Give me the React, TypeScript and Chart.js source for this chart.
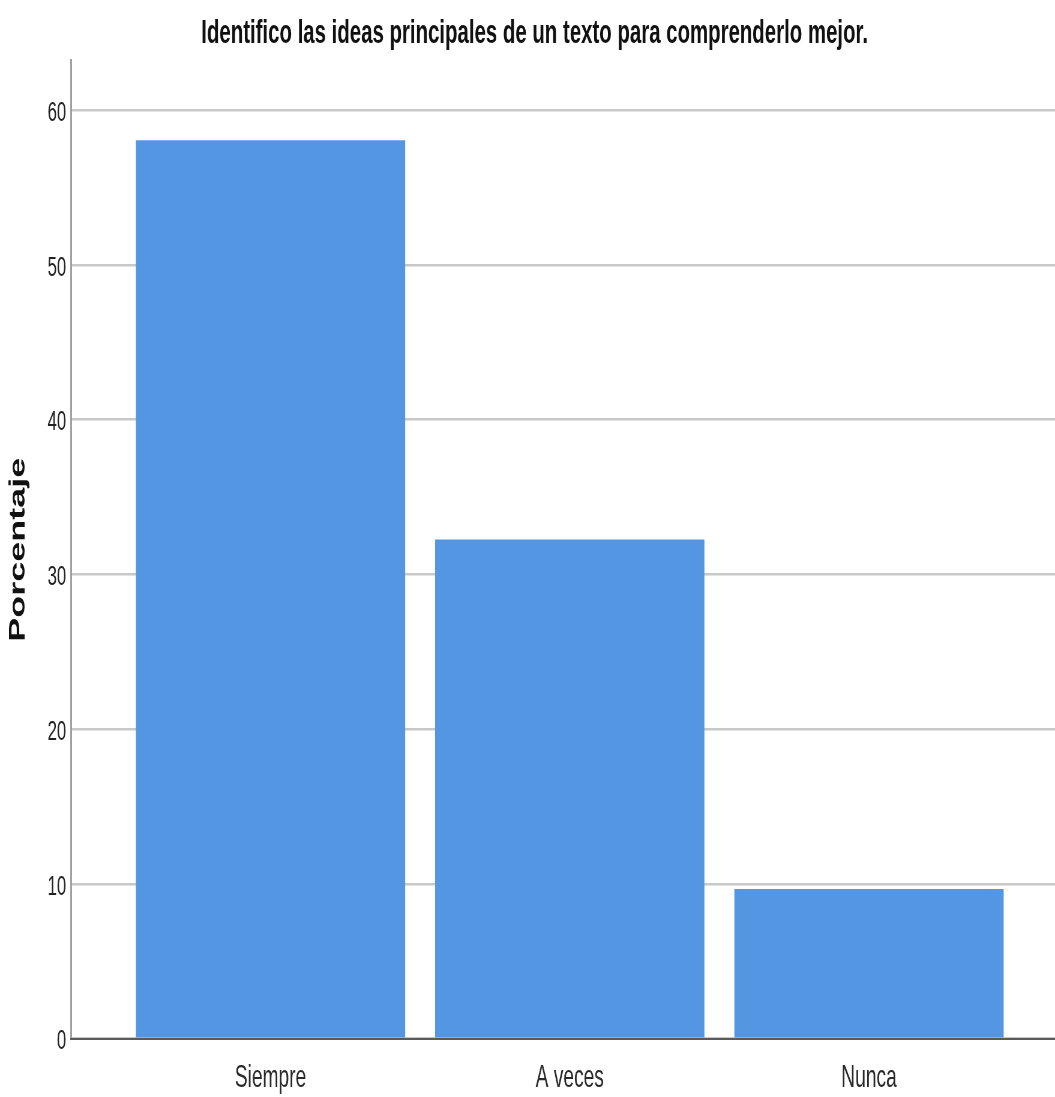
import React, { useEffect, useRef } from 'react';
import { Chart, registerables } from 'chart.js';

Chart.register(...registerables);

// ---- data ----
const chartTitle = 'Identifico las ideas principales de un texto para comprenderlo mejor.';
const yAxisTitle = 'Porcentaje';
const categories = ['Siempre', 'A veces', 'Nunca'];
const percentages = [58.06, 32.26, 9.68];
const yTickValues = [0, 10, 20, 30, 40, 50, 60];

// ---- layout (the reference is horizontally condensed; draw wide, display narrow) ----
const SCREEN_W = 1055;
const SCREEN_H = 1097;
const SQUEEZE = 0.6;
const CANVAS_W = Math.round(SCREEN_W / SQUEEZE);
const toCanvasX = (sx: number) => sx / SQUEEZE;

const FONT = '"Liberation Sans", Arial, "DejaVu Sans", sans-serif';

export default function App() {
  const ref = useRef<HTMLCanvasElement | null>(null);

  useEffect(() => {
    document.body.style.margin = '0';
    const canvas = ref.current;
    if (!canvas) return;

    const titlePlugin = {
      id: 'condensedTitle',
      afterDraw(chart: any) {
        const ctx = chart.ctx;
        ctx.save();
        ctx.font = `bold 34px ${FONT}`;
        ctx.fillStyle = '#111111';
        ctx.textAlign = 'center';
        ctx.textBaseline = 'alphabetic';
        ctx.fillText(chartTitle, toCanvasX(534.5), 43);
        ctx.restore();
      },
    };

    const chart = new Chart(canvas, {
      type: 'bar',
      data: {
        datasets: [
          {
            label: yAxisTitle,
            data: percentages.map((v, i) => ({ x: i, y: v })),
            backgroundColor: '#5596e3',
            borderWidth: 0,
            categoryPercentage: 1,
            barPercentage: 0.9,
          },
        ],
      },
      options: {
        responsive: false,
        animation: false,
        devicePixelRatio: 1,
        layout: { padding: { top: 60.7, left: 0, right: 0, bottom: 0 } },
        plugins: {
          legend: { display: false },
          tooltip: { enabled: false },
          title: { display: false },
        },
        scales: {
          x: {
            type: 'linear',
            offset: false,
            min: -0.6667,
            max: 2.6216,
            afterBuildTicks: (scale: any) => {
              scale.ticks = categories.map((_, i) => ({ value: i }));
            },
            afterFit: (scale: any) => {
              scale.height = SCREEN_H - 1038.7;
            },
            grid: { display: false, drawTicks: false, offset: false },
            border: { display: true, color: '#5a5a5a', width: 2, z: 1 },
            ticks: {
              padding: 20,
              color: '#2a2a2a',
              font: { family: FONT, size: 32 },
              maxRotation: 0,
              autoSkip: false,
              callback: (v: any) => categories[Math.round(Number(v))] ?? '',
            },
          },
          y: {
            type: 'linear',
            min: 0,
            max: 63.2,
            afterBuildTicks: (scale: any) => {
              scale.ticks = yTickValues.map((v) => ({ value: v }));
            },
            afterFit: (scale: any) => {
              scale.width = toCanvasX(71);
            },
            grid: { color: '#c8c8c8', lineWidth: 2.5, drawTicks: false },
            border: { display: true, color: '#a0a0a0', width: 3 },
            ticks: {
              padding: 8,
              labelOffset: 3,
              color: '#222222',
              font: { family: FONT, size: 28 },
            },
            title: {
              display: true,
              text: yAxisTitle,
              color: '#111111',
              font: { family: FONT, size: 36, weight: 'bold' },
              padding: { top: 9, bottom: 0 },
            },
          },
        },
      },
      plugins: [titlePlugin],
    } as any);

    return () => chart.destroy();
  }, []);

  return (
    <canvas
      ref={ref}
      width={CANVAS_W}
      height={SCREEN_H}
      style={{ width: `${SCREEN_W}px`, height: `${SCREEN_H}px`, display: 'block' }}
    />
  );
}
